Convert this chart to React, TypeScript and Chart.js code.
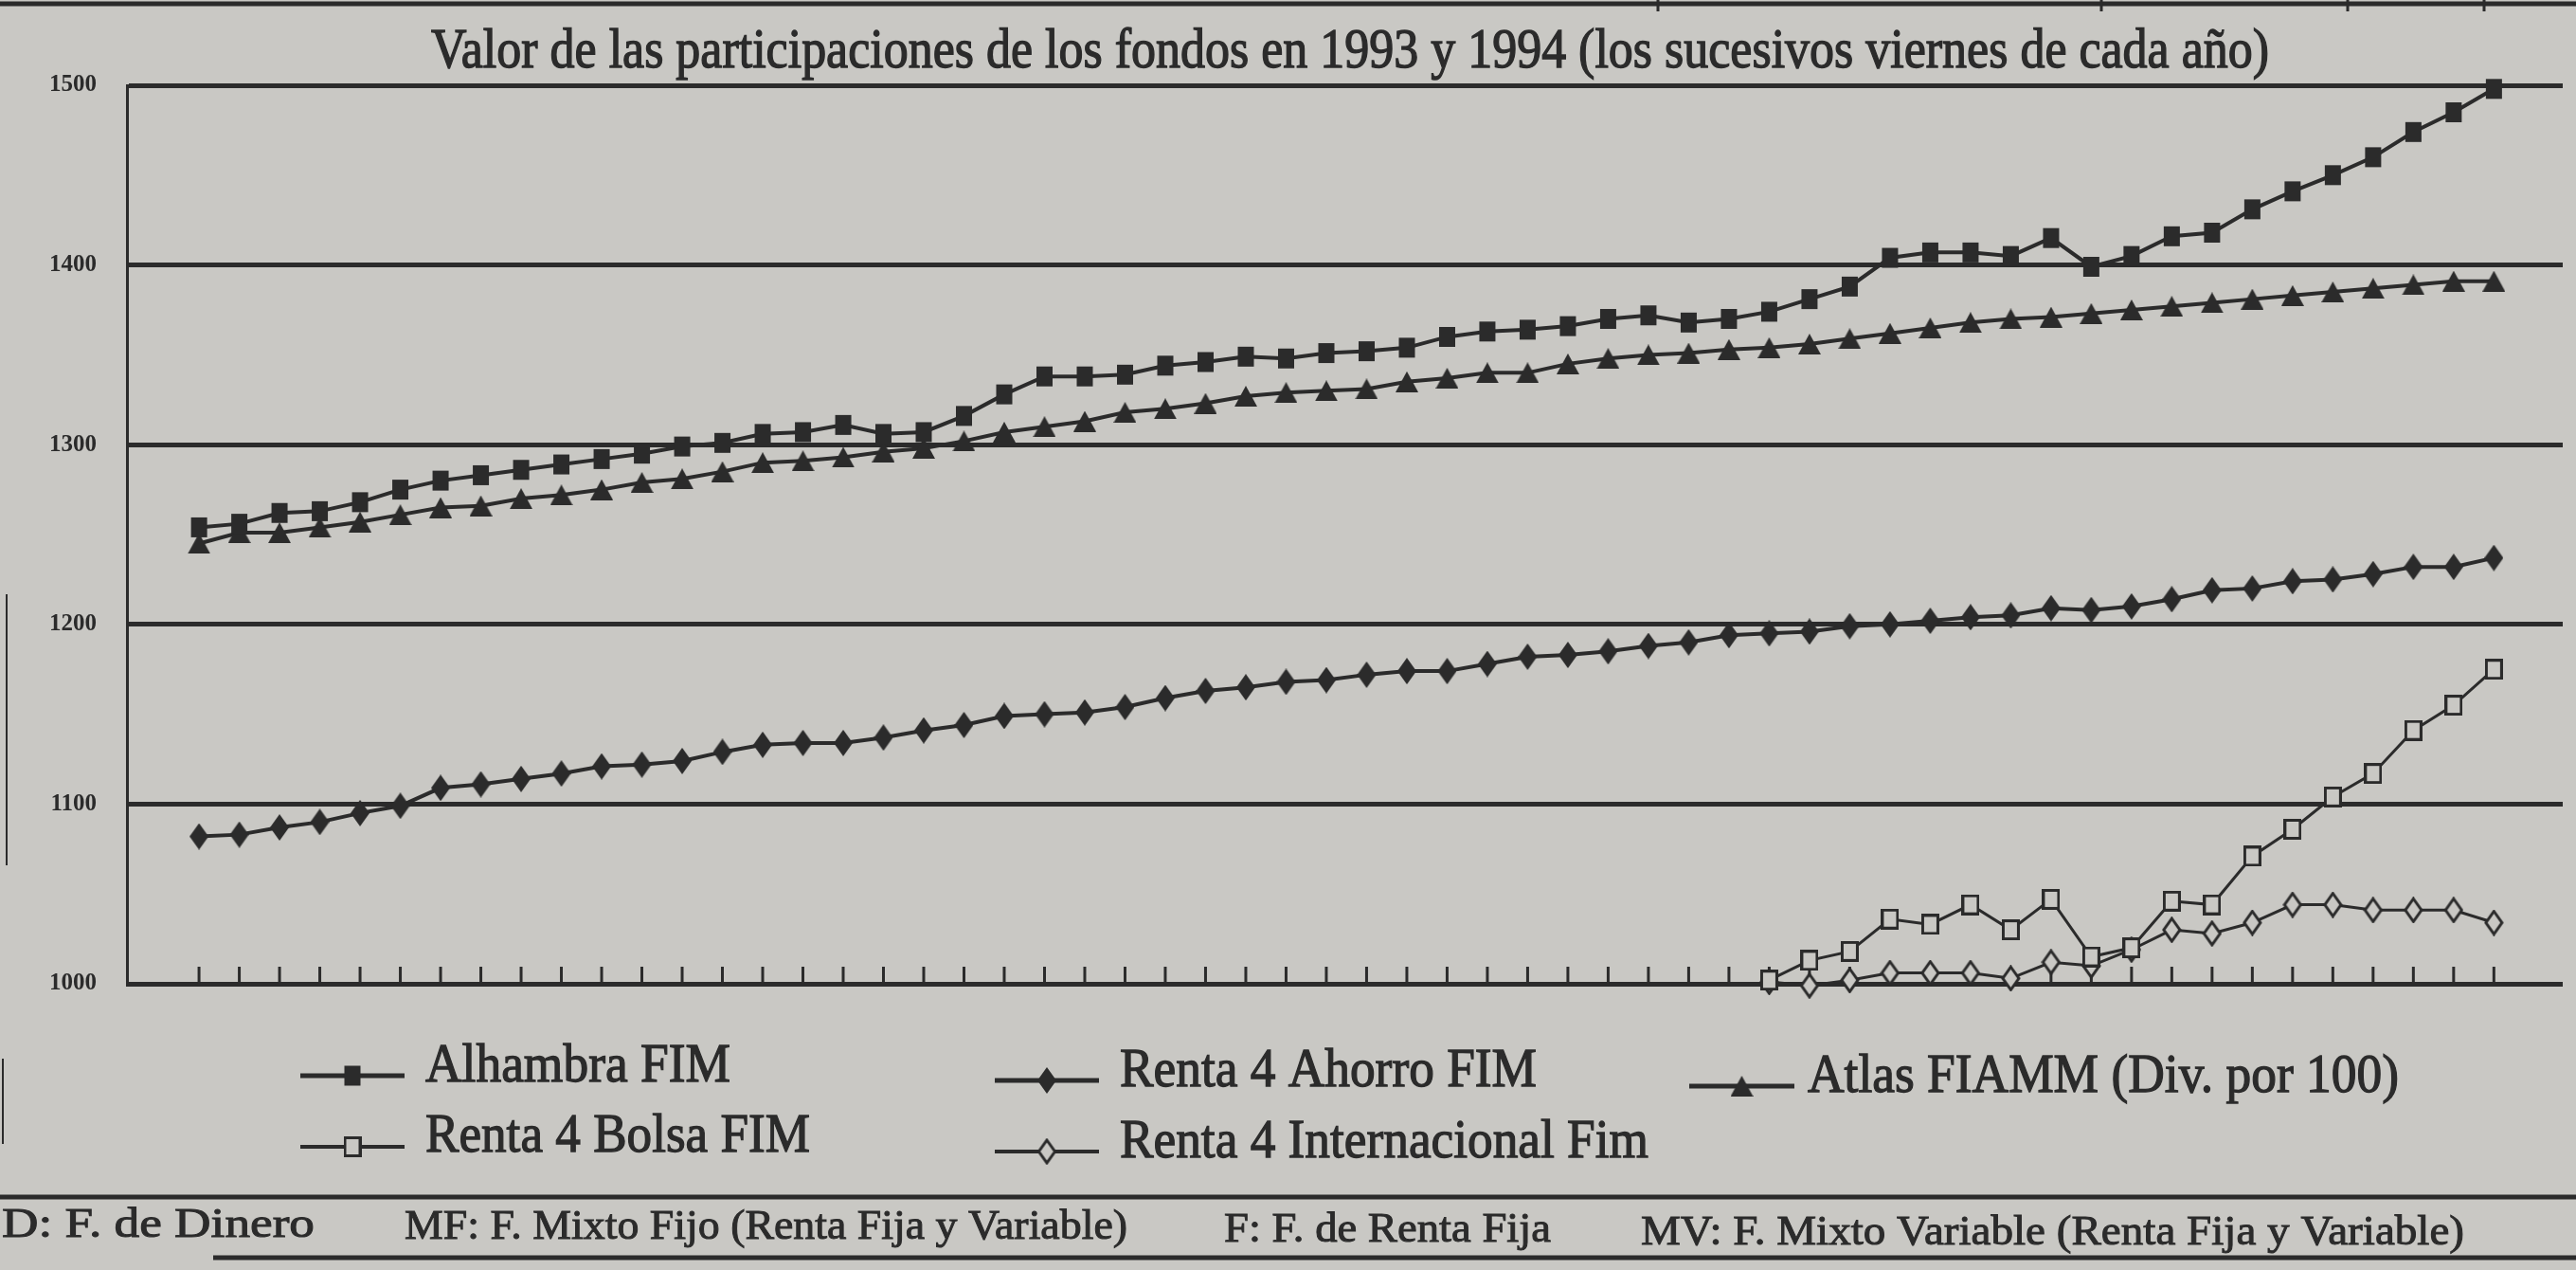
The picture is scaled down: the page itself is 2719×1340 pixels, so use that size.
import React, { useEffect, useRef } from "react";
import { Chart, registerables } from "chart.js";

Chart.register(...registerables);

const W = 2719;
const H = 1340;
const INK = "#2b2b2b";
const PAPER = "#c9c8c4";

const TITLE =
  "Valor de las participaciones de los fondos en 1993 y 1994 (los sucesivos viernes de cada año)";

// Successive Fridays (week index)
const WEEKS = [
  1, 2, 3, 4, 5, 6, 7, 8, 9, 10, 11, 12, 13, 14, 15, 16, 17, 18, 19, 20,
  21, 22, 23, 24, 25, 26, 27, 28, 29, 30, 31, 32, 33, 34, 35, 36, 37, 38, 39, 40,
  41, 42, 43, 44, 45, 46, 47, 48, 49, 50, 51, 52, 53, 54, 55, 56, 57, 58,
];

const Y_TICKS = [1000, 1100, 1200, 1300, 1400, 1500];

const SERIES_NAMES = [
  "Alhambra FIM",
  "Renta 4 Ahorro FIM",
  "Atlas FIAMM (Div. por 100)",
  "Renta 4 Bolsa FIM",
  "Renta 4 Internacional Fim",
];

const ALHAMBRA = [
  1254, 1256, 1262, 1263, 1268, 1275, 1280, 1283, 1286, 1289,
  1292, 1295, 1299, 1301, 1306, 1307, 1311, 1306, 1307, 1316,
  1328, 1338, 1338, 1339, 1344, 1346, 1349, 1348, 1351, 1352,
  1354, 1360, 1363, 1364, 1366, 1370, 1372, 1368, 1370, 1374,
  1381, 1388, 1404, 1407, 1407, 1405, 1415, 1399, 1405, 1416,
  1418, 1431, 1441, 1450, 1460, 1474, 1485, 1498,
];

const AHORRO = [
  1082, 1083, 1087, 1090, 1095, 1099, 1109, 1111, 1114, 1117,
  1121, 1122, 1124, 1129, 1133, 1134, 1134, 1137, 1141, 1144,
  1149, 1150, 1151, 1154, 1159, 1163, 1165, 1168, 1169, 1172,
  1174, 1174, 1178, 1182, 1183, 1185, 1188, 1190, 1194, 1195,
  1196, 1199, 1200, 1202, 1204, 1205, 1209, 1208, 1210, 1214,
  1219, 1220, 1224, 1225, 1228, 1232, 1232, 1237,
];

const ATLAS = [
  1245, 1251, 1251, 1254, 1257, 1261, 1265, 1266, 1270, 1272,
  1275, 1279, 1281, 1285, 1290, 1291, 1293, 1296, 1298, 1302,
  1307, 1310, 1313, 1318, 1320, 1323, 1327, 1329, 1330, 1331,
  1335, 1337, 1340, 1340, 1345, 1348, 1350, 1351, 1353, 1354,
  1356, 1359, 1362, 1365, 1368, 1370, 1371, 1373, 1375, 1377,
  1379, 1381, 1383, 1385, 1387, 1389, 1391, 1391,
];

// Bolsa and Internacional start at week 40 (index 39)
const LATE_START = 39;

const BOLSA = [
  1002, 1013, 1018, 1036, 1033, 1044, 1030, 1047, 1015, 1020,
  1046, 1044, 1071, 1086, 1104, 1117, 1141, 1155, 1175,
];

const INTERNACIONAL = [
  1001, 999, 1002, 1006, 1006, 1006, 1003, 1012, 1010, 1019,
  1030, 1028, 1034, 1044, 1044, 1041, 1041, 1041, 1034,
];

const FOOTER = [
  "D: F. de Dinero",
  "MF: F. Mixto Fijo (Renta Fija y Variable)",
  "F: F. de Renta Fija",
  "MV: F. Mixto Variable (Renta Fija y Variable)",
];

const SERIF = '"Liberation Serif", "DejaVu Serif", serif';

function makeMarker(kind: string): HTMLCanvasElement {
  const sizes: Record<string, [number, number]> = {
    square: [19, 23],
    diamond: [20, 28],
    triangle: [24, 22],
    openSquare: [19, 22],
    openDiamond: [21, 28],
  };
  const [w, h] = sizes[kind];
  const c = document.createElement("canvas");
  c.width = w;
  c.height = h;
  const g = c.getContext("2d")!;
  g.fillStyle = INK;
  g.strokeStyle = INK;
  g.lineWidth = 3;
  if (kind === "square") {
    g.fillRect(1, 1, w - 2, h - 2);
  } else if (kind === "diamond") {
    g.beginPath();
    g.moveTo(w / 2, 0);
    g.lineTo(w, h / 2);
    g.lineTo(w / 2, h);
    g.lineTo(0, h / 2);
    g.closePath();
    g.fill();
  } else if (kind === "triangle") {
    g.beginPath();
    g.moveTo(w / 2, 0);
    g.lineTo(w, h);
    g.lineTo(0, h);
    g.closePath();
    g.fill();
  } else if (kind === "openSquare") {
    g.fillStyle = PAPER;
    g.fillRect(1.5, 1.5, w - 3, h - 3);
    g.strokeRect(1.5, 1.5, w - 3, h - 3);
  } else {
    g.beginPath();
    g.moveTo(w / 2, 2);
    g.lineTo(w - 2, h / 2);
    g.lineTo(w / 2, h - 2);
    g.lineTo(2, h / 2);
    g.closePath();
    g.fillStyle = PAPER;
    g.fill();
    g.stroke();
  }
  return c;
}

function fitText(
  ctx: CanvasRenderingContext2D,
  text: string,
  x: number,
  baseline: number,
  width: number,
  size: number,
  heavy = 1.3
) {
  ctx.save();
  ctx.font = `normal ${size}px ${SERIF}`;
  ctx.fillStyle = INK;
  ctx.strokeStyle = INK;
  ctx.textBaseline = "alphabetic";
  ctx.textAlign = "left";
  const m = ctx.measureText(text).width;
  ctx.translate(x, baseline);
  ctx.scale(width / m, 1);
  ctx.fillText(text, 0, 0);
  ctx.lineWidth = heavy;
  ctx.strokeText(text, 0, 0);
  ctx.restore();
}

function hline(ctx: CanvasRenderingContext2D, x0: number, x1: number, y: number, lw: number) {
  ctx.save();
  ctx.strokeStyle = INK;
  ctx.lineWidth = lw;
  ctx.beginPath();
  ctx.moveTo(x0, y);
  ctx.lineTo(x1, y);
  ctx.stroke();
  ctx.restore();
}

function vline(ctx: CanvasRenderingContext2D, x: number, y0: number, y1: number, lw: number) {
  ctx.save();
  ctx.strokeStyle = INK;
  ctx.lineWidth = lw;
  ctx.beginPath();
  ctx.moveTo(x, y0);
  ctx.lineTo(x, y1);
  ctx.stroke();
  ctx.restore();
}

// legend layout (line start, line end, line y, text x, text baseline, text width)
const LEGEND_LAYOUT = [
  { lx0: 317, lx1: 427, ly: 1135, tx: 449, ty: 1141, tw: 322 },
  { lx0: 1050, lx1: 1160, ly: 1140, tx: 1182, ty: 1146, tw: 440 },
  { lx0: 1783, lx1: 1894, ly: 1146, tx: 1908, ty: 1152, tw: 624 },
  { lx0: 317, lx1: 427, ly: 1210, tx: 449, ty: 1215, tw: 406 },
  { lx0: 1050, lx1: 1160, ly: 1215, tx: 1182, ty: 1221, tw: 558 },
];

const FOOTER_LAYOUT = [
  { x: 2, y: 1305, w: 330 },
  { x: 427, y: 1307, w: 763 },
  { x: 1292, y: 1310, w: 345 },
  { x: 1732, y: 1313, w: 869 },
];

export default function App() {
  const ref = useRef<HTMLCanvasElement | null>(null);

  useEffect(() => {
    const canvas = ref.current;
    if (!canvas) return;

    const markers = [
      makeMarker("square"),
      makeMarker("diamond"),
      makeMarker("triangle"),
      makeMarker("openSquare"),
      makeMarker("openDiamond"),
    ];

    const full = (vals: number[]) => vals.map((v, i) => ({ x: WEEKS[i] - 1, y: v }));
    const late = (vals: number[]) =>
      vals.map((v, k) => ({ x: WEEKS[LATE_START + k] - 1, y: v }));

    const seriesData = [full(ALHAMBRA), full(AHORRO), full(ATLAS), late(BOLSA), late(INTERNACIONAL)];
    const widths = [4, 4, 4, 3, 3];

    const decor = {
      id: "decor",
      beforeDraw(chart: any) {
        const ctx = chart.ctx;
        ctx.save();
        ctx.fillStyle = PAPER;
        ctx.fillRect(0, 0, chart.width, chart.height);
        ctx.restore();
      },
      beforeDatasetsDraw(chart: any) {
        const ctx = chart.ctx;
        const xs = chart.scales.x;
        const bottom = chart.chartArea.bottom;
        for (const wk of WEEKS) {
          const px = xs.getPixelForValue(wk - 1);
          vline(ctx, px, bottom, bottom - 18, 3);
        }
      },
      afterDraw(chart: any) {
        const ctx = chart.ctx;
        // top border from the page
        hline(ctx, 0, W, 4, 5);
        for (const x of [1750, 2218, 2478, 2622]) vline(ctx, x, 0, 12, 3);
        // title
        fitText(ctx, TITLE, 455, 71, 1940, 60, 1.4);
        // legend
        LEGEND_LAYOUT.forEach((L, i) => {
          const ds = chart.data.datasets[i];
          hline(ctx, L.lx0, L.lx1, L.ly, widths[i] + 1);
          const m = markers[i];
          ctx.drawImage(m, (L.lx0 + L.lx1) / 2 - m.width / 2, L.ly - m.height / 2);
          fitText(ctx, ds.label, L.tx, L.ty, L.tw, 58, 1.3);
        });
        // footer
        hline(ctx, 0, W, 1263, 5);
        hline(ctx, 225, W, 1327, 5);
        FOOTER.forEach((t, i) => {
          const F = FOOTER_LAYOUT[i];
          fitText(ctx, t, F.x, F.y, F.w, 45, 1.0);
        });
        // scan edge marks at left
        vline(ctx, 7, 627, 913, 2);
        vline(ctx, 3, 1117, 1207, 2);
      },
    };

    const chart = new Chart(canvas, {
      type: "line",
      data: {
        datasets: seriesData.map((d, i) => ({
          label: SERIES_NAMES[i],
          data: d,
          borderColor: INK,
          backgroundColor: INK,
          borderWidth: widths[i],
          pointStyle: markers[i] as any,
          pointRadius: 10,
          pointHoverRadius: 10,
          fill: false,
          tension: 0,
          clip: false as any,
        })),
      },
      options: {
        responsive: false,
        animation: false,
        devicePixelRatio: 1,
        events: [],
        layout: { padding: { top: 90, bottom: H - 1038, left: 0, right: 0 } },
        scales: {
          x: { type: "linear", min: -1.79, max: 58.71, display: false },
          y: {
            min: Y_TICKS[0],
            max: Y_TICKS[Y_TICKS.length - 1],
            afterFit: (s: any) => {
              s.width = 134;
            },
            afterBuildTicks: (s: any) => {
              s.ticks = Y_TICKS.map((v) => ({ value: v }));
            },
            grid: { color: INK, lineWidth: 5, drawTicks: false },
            border: { display: true, color: INK, width: 3 },
            ticks: {
              padding: 32,
              color: INK,
              font: { family: SERIF, size: 25, weight: "bold" },
              callback: (v: any) => String(v),
            },
          },
        },
        plugins: {
          legend: { display: false },
          title: { display: false },
          tooltip: { enabled: false },
        },
      },
      plugins: [decor],
    });

    return () => chart.destroy();
  }, []);

  return (
    <div style={{ position: "absolute", left: 0, top: 0, width: W, height: H, background: PAPER }}>
      <canvas ref={ref} width={W} height={H} style={{ display: "block", width: W, height: H }} />
    </div>
  );
}
